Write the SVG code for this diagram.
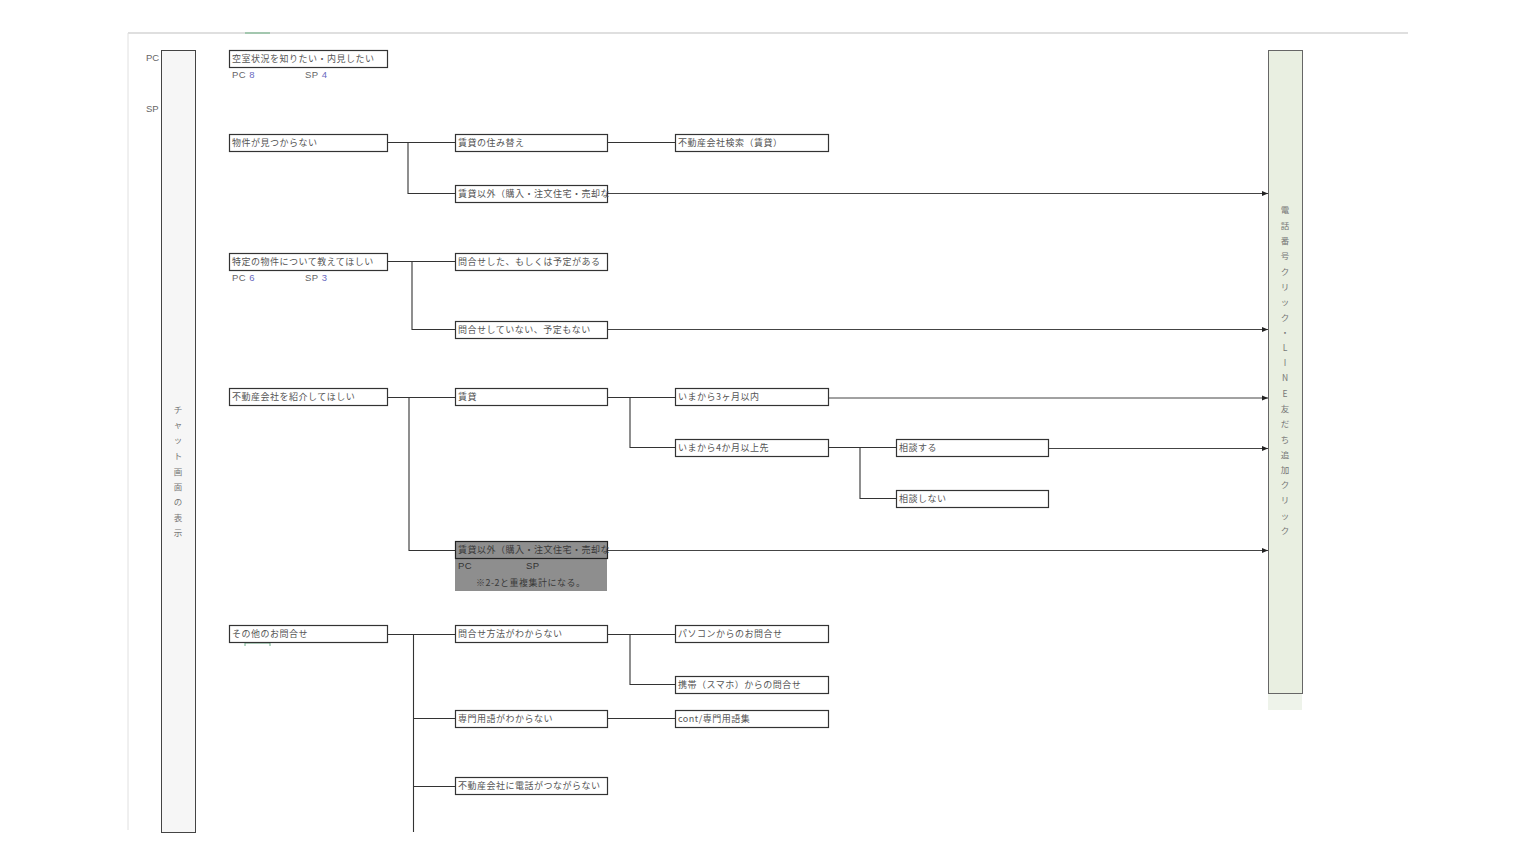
<svg xmlns="http://www.w3.org/2000/svg" width="1536" height="864" viewBox="0 0 1536 864">
<style>
.bx{fill:#fff;stroke:#333;stroke-width:1.2}
.t{font-family:"Noto Sans CJK JP","Noto Sans",sans-serif;font-size:9px;fill:#555;letter-spacing:0.5px}
.lab{font-family:"Liberation Sans","Noto Sans CJK JP",sans-serif;font-size:9.5px;fill:#666;letter-spacing:0.5px}
.num{fill:#6a6ac0}
.ln{fill:none;stroke:#333;stroke-width:1.1}
.ar{fill:none;stroke:#444;stroke-width:1;marker-end:url(#ah)}
.vt{font-family:"Noto Sans CJK JP","Noto Sans",sans-serif;font-size:8.5px;fill:#777;text-anchor:middle}
</style>
<defs>
<marker id="ah" viewBox="0 0 10 10" refX="10" refY="5" markerWidth="6" markerHeight="6" orient="auto" markerUnits="userSpaceOnUse">
<path d="M0,1 L10,5 L0,9 z" fill="#222"/>
</marker>
</defs>
<rect width="1536" height="864" fill="#fff"/>
<g id="frame">
<line x1="128" y1="33" x2="1408" y2="33" stroke="#d4d4d4" stroke-width="1.5"/>
<line x1="245" y1="33" x2="270" y2="33" stroke="#8fbf9f" stroke-width="1.5"/>
<line x1="128" y1="33" x2="128" y2="830" stroke="#e0e0e0" stroke-width="1"/>
<line x1="245" y1="643" x2="270" y2="643" stroke="#6fae8a" stroke-width="1"/>
<line x1="245" y1="643" x2="245" y2="646" stroke="#6fae8a" stroke-width="1"/>
<line x1="270" y1="643" x2="270" y2="646" stroke="#6fae8a" stroke-width="1"/>
<text class="lab" x="146" y="61" style="letter-spacing:0">PC</text>
<text class="lab" x="146" y="112" style="letter-spacing:0">SP</text>
</g>
<g id="leftbar">
<rect x="161.5" y="50.5" width="34" height="782" fill="#f6f6f6" stroke="#444" stroke-width="1"/>
<text class="vt"><tspan x="178" y="413">チ</tspan><tspan x="178" y="428">ャ</tspan><tspan x="178" y="443">ッ</tspan><tspan x="178" y="459">ト</tspan><tspan x="178" y="475">画</tspan><tspan x="178" y="490">面</tspan><tspan x="178" y="505">の</tspan><tspan x="178" y="521">表</tspan><tspan x="178" y="536">示</tspan></text>
</g>
<g id="rightbar">
<rect x="1268" y="693" width="34" height="17" fill="#eef3ea"/>
<rect x="1268.5" y="50.5" width="34" height="643" fill="#e9efe1" stroke="#666" stroke-width="1"/>
<text class="vt"><tspan x="1285" y="213">電</tspan><tspan x="1285" y="229">話</tspan><tspan x="1285" y="244">番</tspan><tspan x="1285" y="259">号</tspan><tspan x="1285" y="275">ク</tspan><tspan x="1285" y="290">リ</tspan><tspan x="1285" y="305">ッ</tspan><tspan x="1285" y="321">ク</tspan><tspan x="1285" y="336">・</tspan><tspan x="1285" y="351">L</tspan><tspan x="1285" y="366">I</tspan><tspan x="1285" y="381">N</tspan><tspan x="1285" y="397">E</tspan><tspan x="1285" y="412">友</tspan><tspan x="1285" y="427">だ</tspan><tspan x="1285" y="443">ち</tspan><tspan x="1285" y="458">追</tspan><tspan x="1285" y="473">加</tspan><tspan x="1285" y="488">ク</tspan><tspan x="1285" y="503">リ</tspan><tspan x="1285" y="519">ッ</tspan><tspan x="1285" y="534">ク</tspan></text>
</g>
<g id="connectors">
<path class="ln" d="M387,142.5 H455 M408,142.5 V193.5 H455 M607,142.5 H675"/>
<path class="ar" d="M607,193.5 H1268"/>
<path class="ln" d="M387,261.5 H455 M412,261.5 V329.5 H455"/>
<path class="ar" d="M607,329.5 H1268"/>
<path class="ln" d="M387,397.5 H455 M409,397.5 V550.5 H455 M607,397.5 H675 M630,397.5 V447.5 H675 M828,447.5 H896 M860,447.5 V498.5 H896"/>
<path class="ar" d="M828,398 H1268"/>
<path class="ar" d="M1048,448.5 H1268"/>
<path class="ar" d="M607,550.5 H1268"/>
<path class="ln" d="M387,634.5 H455 M413.5,634.5 V832 M607,634.5 H675 M630,634.5 V684.5 H675 M413.5,718.5 H455 M607,718.5 H675 M413.5,786.5 H455"/>
</g>
<g id="n1">
<rect class="bx" x="229.5" y="50.5" width="158" height="17"/>
<text class="t" x="232" y="62">空室状況を知りたい・内見したい</text>
<text class="lab" x="232" y="78">PC <tspan class="num">8</tspan></text>
<text class="lab" x="305" y="78">SP <tspan class="num">4</tspan></text>
</g>
<g id="n2">
<rect class="bx" x="229.5" y="134.5" width="158" height="17"/>
<text class="t" x="232" y="146">物件が見つからない</text>
</g>
<g id="n2a">
<rect class="bx" x="455.5" y="134.5" width="152" height="17"/>
<text class="t" x="458" y="146">賃貸の住み替え</text>
</g>
<g id="n2a1">
<rect class="bx" x="675.5" y="134.5" width="153" height="17"/>
<text class="t" x="678" y="146">不動産会社検索（賃貸）</text>
</g>
<g id="n2b">
<rect class="bx" x="455.5" y="185.5" width="152" height="17"/>
<text class="t" x="458" y="197">賃貸以外（購入・注文住宅・売却な</text>
</g>
<g id="n3">
<rect class="bx" x="229.5" y="253.5" width="158" height="17"/>
<text class="t" x="232" y="265">特定の物件について教えてほしい</text>
<text class="lab" x="232" y="281">PC <tspan class="num">6</tspan></text>
<text class="lab" x="305" y="281">SP <tspan class="num">3</tspan></text>
</g>
<g id="n3a">
<rect class="bx" x="455.5" y="253.5" width="152" height="17"/>
<text class="t" x="458" y="265">問合せした、もしくは予定がある</text>
</g>
<g id="n3b">
<rect class="bx" x="455.5" y="321.5" width="152" height="17"/>
<text class="t" x="458" y="333">問合せしていない、予定もない</text>
</g>
<g id="n4">
<rect class="bx" x="229.5" y="388.5" width="158" height="17"/>
<text class="t" x="232" y="400">不動産会社を紹介してほしい</text>
</g>
<g id="n4a">
<rect class="bx" x="455.5" y="388.5" width="152" height="17"/>
<text class="t" x="458" y="400">賃貸</text>
</g>
<g id="n4a1">
<rect class="bx" x="675.5" y="388.5" width="153" height="17"/>
<text class="t" x="678" y="400">いまから3ヶ月以内</text>
</g>
<g id="n4a2">
<rect class="bx" x="675.5" y="439.5" width="153" height="17"/>
<text class="t" x="678" y="451">いまから4か月以上先</text>
</g>
<g id="n4a2a">
<rect class="bx" x="896.5" y="439.5" width="152" height="17"/>
<text class="t" x="899" y="451">相談する</text>
</g>
<g id="n4a2b">
<rect class="bx" x="896.5" y="490.5" width="152" height="17"/>
<text class="t" x="899" y="502">相談しない</text>
</g>
<g id="n4b">
<rect x="455" y="541" width="152" height="50" fill="#8e8e8e"/>
<rect x="455.5" y="541.5" width="152" height="17" fill="none" stroke="#222" stroke-width="1.2"/>
<text class="t" x="458" y="553" style="fill:#3a3a3a">賃貸以外（購入・注文住宅・売却な</text>
<text class="lab" x="458" y="569" style="fill:#333">PC</text>
<text class="lab" x="526" y="569" style="fill:#333">SP</text>
<text class="t" x="476" y="586" style="fill:#3a3a3a">※2-2と重複集計になる。</text>
</g>
<g id="n5">
<rect class="bx" x="229.5" y="625.5" width="158" height="17"/>
<text class="t" x="232" y="637">その他のお問合せ</text>
</g>
<g id="n5a">
<rect class="bx" x="455.5" y="625.5" width="152" height="17"/>
<text class="t" x="458" y="637">問合せ方法がわからない</text>
</g>
<g id="n5a1">
<rect class="bx" x="675.5" y="625.5" width="153" height="17"/>
<text class="t" x="678" y="637">パソコンからのお問合せ</text>
</g>
<g id="n5a2">
<rect class="bx" x="675.5" y="676.5" width="153" height="17"/>
<text class="t" x="678" y="688">携帯（スマホ）からの問合せ</text>
</g>
<g id="n5b">
<rect class="bx" x="455.5" y="710.5" width="152" height="17"/>
<text class="t" x="458" y="722">専門用語がわからない</text>
</g>
<g id="n5b1">
<rect class="bx" x="675.5" y="710.5" width="153" height="17"/>
<text class="t" x="678" y="722">cont/専門用語集</text>
</g>
<g id="n5c">
<rect class="bx" x="455.5" y="777.5" width="152" height="17"/>
<text class="t" x="458" y="789">不動産会社に電話がつながらない</text>
</g>
</svg>
